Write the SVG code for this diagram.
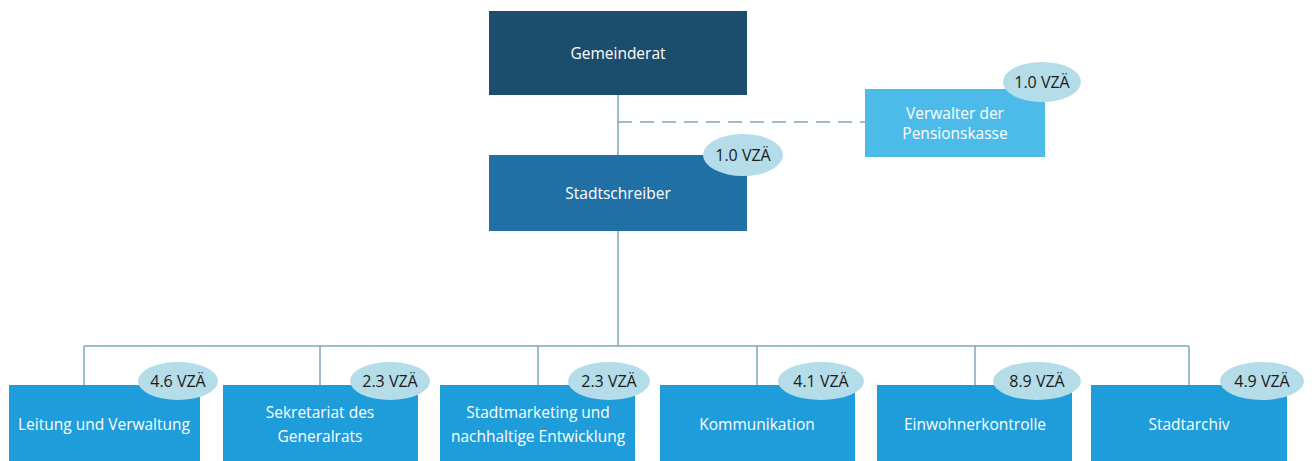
<svg xmlns="http://www.w3.org/2000/svg" width="1316" height="461" viewBox="0 0 1316 461">
  <style>
    .lbl { font-family: "Open Sans", "Noto Sans", "Liberation Sans", sans-serif; font-size: 15.5px; fill: #ffffff; text-anchor: middle; }
    .fte { font-family: "Open Sans", "Noto Sans", "Liberation Sans", sans-serif; font-size: 16px; fill: #1a1a1a; text-anchor: middle; }
    .badge { fill: #b4dce9; }
    .dept { fill: #1e9dda; }
    .wire { stroke: #7fa6bd; stroke-width: 1.5; fill: none; }
  </style>
  <rect width="1316" height="461" fill="#ffffff"/>

  <!-- connectors -->
  <g id="connectors">
    <line class="wire" x1="618" y1="95" x2="618" y2="155"/>
    <line class="wire" x1="618" y1="231" x2="618" y2="346"/>
    <line class="wire" x1="618" y1="122" x2="865" y2="122" stroke-dasharray="14 8" stroke="#9cbfd2"/>
    <line class="wire" x1="84" y1="346" x2="1189" y2="346" stroke="#6fb0d2"/>
    <line class="wire" x1="84" y1="346" x2="84" y2="385"/>
    <line class="wire" x1="320" y1="346" x2="320" y2="385"/>
    <line class="wire" x1="538" y1="346" x2="538" y2="385"/>
    <line class="wire" x1="757" y1="346" x2="757" y2="385"/>
    <line class="wire" x1="975" y1="346" x2="975" y2="385"/>
    <line class="wire" x1="1189" y1="346" x2="1189" y2="385"/>
  </g>

  <g id="gemeinderat">
    <rect x="489" y="11" width="258" height="84" fill="#1c4d6d"/>
    <text class="lbl" x="618" y="59">Gemeinderat</text>
  </g>

  <g id="stadtschreiber">
    <rect x="489" y="155" width="258" height="76" fill="#2070a6"/>
    <text class="lbl" x="618" y="199">Stadtschreiber</text>
    <ellipse class="badge" cx="743" cy="155" rx="40" ry="21"/>
    <text class="fte" x="743" y="161">1.0 VZÄ</text>
  </g>

  <g id="verwalter">
    <rect x="865" y="89" width="180" height="68" fill="#4dbbea"/>
    <text class="lbl" x="955" y="119">Verwalter der</text>
    <text class="lbl" x="955" y="139">Pensionskasse</text>
    <ellipse class="badge" cx="1042" cy="82" rx="39" ry="20"/>
    <text class="fte" x="1042" y="88">1.0 VZÄ</text>
  </g>

  <g id="leitung">
    <rect class="dept" x="9" y="385" width="191" height="76"/>
    <text class="lbl" x="104" y="430">Leitung und Verwaltung</text>
    <ellipse class="badge" cx="178" cy="381" rx="40" ry="19"/>
    <text class="fte" x="178" y="387">4.6 VZÄ</text>
  </g>

  <g id="sekretariat">
    <rect class="dept" x="223" y="385" width="195" height="76"/>
    <text class="lbl" x="320" y="418">Sekretariat des</text>
    <text class="lbl" x="320" y="442">Generalrats</text>
    <ellipse class="badge" cx="390" cy="381" rx="40" ry="19"/>
    <text class="fte" x="390" y="387">2.3 VZÄ</text>
  </g>

  <g id="stadtmarketing">
    <rect class="dept" x="440" y="385" width="195" height="76"/>
    <text class="lbl" x="538" y="418">Stadtmarketing und</text>
    <text class="lbl" x="538" y="442">nachhaltige Entwicklung</text>
    <ellipse class="badge" cx="609" cy="381" rx="41" ry="19"/>
    <text class="fte" x="609" y="387">2.3 VZÄ</text>
  </g>

  <g id="kommunikation">
    <rect class="dept" x="660" y="385" width="195" height="76"/>
    <text class="lbl" x="757" y="430">Kommunikation</text>
    <ellipse class="badge" cx="821" cy="381" rx="43" ry="19"/>
    <text class="fte" x="821" y="387">4.1 VZÄ</text>
  </g>

  <g id="einwohnerkontrolle">
    <rect class="dept" x="877" y="385" width="195" height="76"/>
    <text class="lbl" x="975" y="430">Einwohnerkontrolle</text>
    <ellipse class="badge" cx="1037" cy="381" rx="44" ry="19"/>
    <text class="fte" x="1037" y="387">8.9 VZÄ</text>
  </g>

  <g id="stadtarchiv">
    <rect class="dept" x="1091" y="385" width="196" height="76"/>
    <text class="lbl" x="1189" y="430">Stadtarchiv</text>
    <ellipse class="badge" cx="1262" cy="381" rx="42" ry="19"/>
    <text class="fte" x="1262" y="387">4.9 VZÄ</text>
  </g>
</svg>
